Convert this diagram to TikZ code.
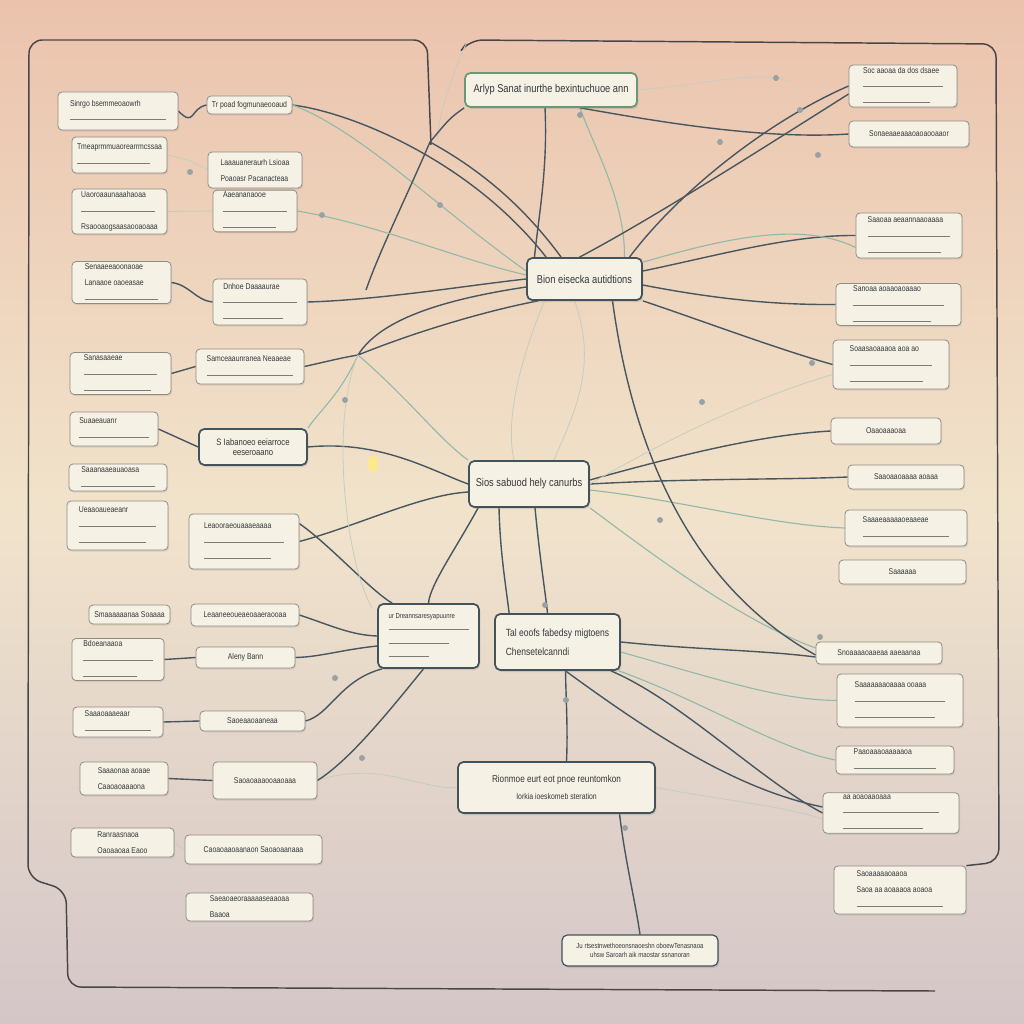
\documentclass[tikz,border=0pt]{standalone}
\usepackage{fontspec}
\setmainfont{Liberation Sans}[FakeStretch=0.82]
\usetikzlibrary{shadows,calc}
\definecolor{bgtop}{HTML}{EBC3AD}
\definecolor{bgmid}{HTML}{F1E3CB}
\definecolor{bgbot}{HTML}{D4C6C8}
\definecolor{framec}{HTML}{4A4648}
\definecolor{boxfill}{HTML}{F6F1E5}
\definecolor{sideborder}{HTML}{8F8C84}
\definecolor{mainborder}{HTML}{42535C}
\definecolor{greenborder}{HTML}{6A9874}
\definecolor{darkline}{HTML}{485660}
\definecolor{lightline}{HTML}{93BAA9}
\definecolor{faintline}{HTML}{C6CDC0}
\definecolor{txt}{HTML}{34373A}
\definecolor{rulec}{HTML}{7C7C76}
\definecolor{knotc}{HTML}{98A2A4}
\newcommand\hd[1]{{\fontsize{6.3}{7.3}\selectfont\color{txt}#1}}
\newcommand\rl[1]{\textcolor{rulec}{\rule[0.3ex]{#1}{0.55pt}}}
\newcommand\bx[7]{\node[#6, minimum width={(#4-#2)*0.75pt}, minimum height={(#5-#3)*0.75pt}] (#1) at ({(#2+#4)/2},{(#3+#5)/2}) {#7};}
\pgfdeclarelayer{back}
\pgfdeclarelayer{bg}
\pgfsetlayers{back,bg,main}
\tikzset{
  sbox/.style={draw=sideborder, fill=boxfill, rounded corners=3pt, line width=0.6pt, inner sep=1.5pt, align=left, text=txt,
    drop shadow={opacity=0.18, shadow xshift=0.8pt, shadow yshift=-1.2pt}},
  mbox/.style={draw=mainborder, fill=boxfill, rounded corners=4pt, line width=1.3pt, inner sep=2pt, align=center, text=txt,
    font=\fontsize{8.5}{10}\selectfont, drop shadow={opacity=0.25, shadow xshift=1pt, shadow yshift=-1.5pt}},
  gbox/.style={mbox, draw=greenborder},
  dk/.style={draw=darkline, line width=1.05pt},
  lt/.style={draw=lightline, line width=0.85pt},
  fa/.style={draw=faintline, line width=0.6pt},
  frame/.style={draw=framec, line width=1.1pt, rounded corners=10pt},
}
\begin{document}
\begin{tikzpicture}[x=0.75pt,y=-0.75pt]
\useasboundingbox (0,0) rectangle (1024,1024);
\begin{pgfonlayer}{back}
\shade[top color=bgtop, bottom color=bgbot, middle color=bgmid] (0,0) rectangle (1024,1024);
\end{pgfonlayer}

% ---------- main boxes ----------
\bx{top}{465}{73}{637}{107}{gbox}{Arlyp Sanat inurthe bexintuchuoe ann}
\bx{B}{527}{258}{642}{300}{mbox}{Bion eisecka autidtions}
\bx{C}{469}{461}{589}{507}{mbox}{Sios sabuod hely canurbs}
\bx{D}{378}{604}{479}{668}{mbox, align=left}{{\fontsize{5.5}{6.5}\selectfont ur Dreannsaresyapuunre}\\\rl{60pt}\\\rl{45pt}\\\rl{30pt}}
\bx{E}{495}{614}{620}{670}{mbox, align=left, font=\fontsize{7.8}{9}\selectfont}{Tal eoofs fabedsy migtoens\\[5pt]Chensetelcanndi}
\bx{F}{458}{762}{655}{813}{mbox, font=\fontsize{7.5}{9}\selectfont}{Rionmoe eurt eot pnoe reuntomkon\\[4pt]{\fontsize{6.3}{7}\selectfont Iorkia ioeskomeb steration}}
\bx{G}{562}{935}{718}{966}{mbox, line width=0.9pt, font=\fontsize{5.5}{6.5}\selectfont}{Ju rtsestnwethoeonsnaoeshn oboewTenasnaoa\\ uhsw Saroarh aik  maostar ssnanoran}
\bx{H}{199}{429}{307}{465}{mbox, font=\fontsize{7}{8}\selectfont}{S Iabanoeo eeiarroce\\ eeseroaano}

% ---------- left column ----------
\bx{L1}{58}{92}{178}{130}{sbox}{\hd{Sinrgo bsemmeoaowrh}\\\rl{72pt}}
\bx{L2}{207}{96}{292}{114}{sbox}{\hd{Tr poad fogmunaeooaud}}
\bx{L3}{72}{137}{167}{173}{sbox}{\hd{Tmeaprmmuaorearrmcssaa}\\\rl{55pt}}
\bx{L4}{208}{152}{302}{188}{sbox}{\hd{Laaauaneraurh Lsioaa}\\\hd{Poaoasr Pacanacteaa}}
\bx{L5}{72}{189}{167}{234}{sbox}{\hd{Uaoroaaunaaahaoaa}\\\rl{55pt}\\\hd{Rsaooaogsaasaooaoaaa}}
\bx{L6}{213}{193}{297}{229}{sbox}{\hd{Aaeananaooe}\\\rl{48pt}\\\rl{40pt}}
\bx{L7}{72}{263}{171}{302}{sbox}{\hd{Senaaeeaoonaoae}\\\hd{Lanaaoe oaoeasae}\\\rl{55pt}}
\bx{L8}{213}{279}{307}{325}{sbox}{\hd{Dnhoe Daaaaurae}\\\rl{55pt}\\\rl{45pt}}
\bx{L9}{70}{354}{171}{393}{sbox}{\hd{Sanasaaeae}\\\rl{55pt}\\\rl{50pt}}
\bx{L10}{196}{349}{304}{384}{sbox}{\hd{Samceaaunranea Neaaeae}\\\rl{65pt}}
\bx{L11}{70}{412}{158}{446}{sbox}{\hd{Suaaeauanr}\\\rl{52pt}}
\bx{L12}{69}{464}{167}{491}{sbox}{\hd{Saaanaaeauaoasa}\\\rl{55pt}}
\bx{L13}{67}{501}{168}{550}{sbox}{\hd{Ueaaoaueaeanr}\\\rl{58pt}\\\rl{50pt}}
\bx{L14}{189}{514}{299}{569}{sbox}{\hd{Leaooraeouaaaeaaaa}\\\rl{60pt}\\\rl{50pt}}
\bx{L15}{89}{605}{170}{624}{sbox}{\hd{Smaaaaaanaa Soaaaa}}
\bx{L16}{191}{604}{299}{626}{sbox}{\hd{Leaaneeoueaeoaaeraooaa}}
\bx{L17}{72}{640}{164}{679}{sbox}{\hd{Bdoeanaaoa}\\\rl{52pt}\\\rl{40pt}}
\bx{L18}{196}{647}{295}{668}{sbox}{\hd{Aleny Bann}}
\bx{L19}{73}{707}{163}{737}{sbox}{\hd{Saaaoaaaeaar}\\\rl{50pt}}
\bx{L20}{200}{711}{305}{731}{sbox}{\hd{Saoeaaoaaneaa}}
\bx{L21}{80}{762}{168}{795}{sbox}{\hd{Saaaonaa aoaae}\\\hd{Caaoaoaaaona}}
\bx{L22}{213}{762}{317}{799}{sbox}{\hd{Saoaoaaaooaaoaaa}}
\bx{L23}{71}{828}{174}{857}{sbox}{\hd{Ranraasnaoa}\\\hd{Oaoaaoaa Eaoo}}
\bx{L24}{185}{835}{322}{864}{sbox}{\hd{Caoaoaaoaanaon Saoaoaanaaa}}
\bx{L25}{186}{893}{313}{921}{sbox}{\hd{Saeaoaeoraaaaaseaaoaa}\\\hd{Baaoa}}

% ---------- right column ----------
\bx{R1}{849}{68}{957}{104}{sbox}{\hd{Soc aaoaa da dos dsaee}\\\rl{60pt}\\\rl{50pt}}
\bx{R2}{849}{121}{969}{147}{sbox}{\hd{Sonaeaaeaaaoaoaooaaor}}
\bx{R3}{856}{213}{962}{258}{sbox}{\hd{Saaoaa aeaannaaoaaaa}\\\rl{62pt}\\\rl{55pt}}
\bx{R4}{836}{284}{961}{325}{sbox}{\hd{Sanoaa aoaaoaoaaao}\\\rl{68pt}\\\rl{58pt}}
\bx{R5}{833}{340}{949}{389}{sbox}{\hd{Soaasaoaaaoa aoa ao}\\\rl{62pt}\\\rl{55pt}}
\bx{R6}{831}{418}{941}{444}{sbox}{\hd{Oaaoaaaoaa}}
\bx{R7}{848}{465}{964}{489}{sbox}{\hd{Saaoaaoaaaa aoaaa}}
\bx{R8}{845}{510}{967}{546}{sbox}{\hd{Saaaeaaaaaoeaaeae}\\\rl{65pt}}
\bx{R9}{839}{560}{966}{584}{sbox}{\hd{Saaaaaa}}
\bx{R10}{816}{642}{942}{664}{sbox}{\hd{Snoaaaaoaaeaa aaeaanaa}}
\bx{R11}{837}{674}{963}{727}{sbox}{\hd{Saaaaaaaoaaaa ooaaa}\\\rl{68pt}\\\rl{60pt}}
\bx{R12}{836}{746}{954}{774}{sbox}{\hd{Paaoaaaoaaaaaoa}\\\rl{62pt}}
\bx{R13}{823}{793}{959}{833}{sbox}{\hd{aa aoaoaaoaaa}\\\rl{72pt}\\\rl{60pt}}
\bx{R14}{834}{866}{966}{914}{sbox}{\hd{Saoaaaaaoaaoa}\\\hd{Saoa aa aoaaaoa aoaoa}\\\rl{65pt}}

\begin{pgfonlayer}{bg}
% frame
\draw[frame] (431,145) -- (427,40) -- (29,40) -- (28,878) -- (66,890) -- (68,987) -- (935,991);
\draw[frame] (466,44) -- (469,40) -- (996,44) -- (999,862) -- (R14.north east);
\draw[fa] (466,44) .. controls (450,80) and (440,110) .. (437,140);

\coordinate (hub1) at (430,142);
\coordinate (hub2) at (358,355);
\coordinate (j1) at (366,290);

% top area
\draw[dk] (L1.east) .. controls (195,128) and (190,108) .. (L2.west);
\draw[dk] (L2.east) .. controls (350,112) and (470,160) .. ($(B.north west)+(20,0)$);
\draw[lt] (L2.east) .. controls (360,130) and (440,210) .. ($(B.west)+(0,-8)$);
\draw[dk] (top.south west) .. controls (450,118) .. (hub1) .. controls (405,200) and (380,250) .. (j1);
\draw[dk] (hub1) .. controls (490,175) and (530,215) .. ($(B.north west)+(35,0)$);
\draw[dk] ($(top.south)+(-6,0)$) .. controls (548,170) and (538,220) .. ($(B.north)+(-50,0)$);
\draw[lt] ($(top.south)+(29,0)$) .. controls (595,150) and (625,200) .. ($(B.north)+(40,0)$);
\draw[dk] (R1.west) .. controls (770,120) and (680,190) .. ($(B.north)+(45,0)$);
\draw[dk] ($(R1.west)+(0,8)$) .. controls (760,150) and (650,220) .. ($(B.north)+(-5,0)$);
\draw[dk] ($(top.south)+(29,0)$) .. controls (650,120) and (760,140) .. (R2.west);
\draw[fa] (top.east) .. controls (700,85) and (760,70) .. ($(R1.west)+(-60,-5)$);

% B right
\draw[dk] ($(B.east)+(0,-8)$) .. controls (720,255) and (790,235) .. (R3.west);
\draw[dk] ($(B.east)+(0,6)$) .. controls (720,300) and (780,305) .. (R4.west);
\draw[dk] (B.south east) .. controls (700,320) and (780,350) .. (R5.west);
\draw[lt] ($(B.north east)+(0,5)$) .. controls (720,240) and (800,220) .. ($(R3.west)+(0,12)$);

% B left
\draw[dk] (L8.east) .. controls (380,300) and (470,285) .. (B.west);
\draw[dk] (hub2) .. controls (420,330) and (490,310) .. ($(B.south west)+(12,0)$);
\draw[dk] (L10.east) .. controls (325,362) and (340,358) .. (hub2);
\draw[dk] (hub2) .. controls (380,320) and (440,300) .. ($(B.west)+(0,8)$);
\draw[lt] (L6.east) .. controls (380,225) and (460,260) .. ($(B.west)+(0,-4)$);
\draw[dk] (L9.east) -- (L10.west);
\draw[dk] (L7.east) .. controls (190,285) and (195,300) .. (L8.west);
\draw[fa] (L5.east) -- (L6.west);
\draw[fa] (L3.east) .. controls (190,160) .. (L4.west);

% C
\draw[dk] (L11.east) -- (H.west);
\draw[dk] (H.east) .. controls (380,440) and (430,470) .. (C.west);
\draw[dk] (L14.east) .. controls (360,525) and (420,495) .. ($(C.west)+(0,8)$);
\draw[dk] ($(L14.north east)+(0,10)$) .. controls (330,545) and (370,590) .. ($(D.north west)+(15,0)$);
\draw[dk] ($(C.south west)+(10,0)$) .. controls (455,550) and (430,585) .. (D.north);
\draw[dk] ($(C.south)+(-30,0)$) .. controls (500,550) and (505,580) .. ($(E.north west)+(15,0)$);
\draw[dk] ($(C.south)+(6,0)$) .. controls (540,560) and (545,590) .. ($(E.north)+(-10,0)$);
\draw[dk] ($(C.east)+(0,-4)$) .. controls (680,455) and (760,435) .. (R6.west);
\draw[dk] (C.east) .. controls (700,478) and (780,480) .. (R7.west);
\draw[lt] ($(C.east)+(0,6)$) .. controls (680,500) and (770,525) .. (R8.west);
\draw[lt] (C.south east) .. controls (660,560) and (740,620) .. ($(R10.west)+(0,-5)$);
\draw[dk] ($(B.south)+(28,0)$) .. controls (630,430) and (680,580) .. ($(R10.west)+(0,2)$);
\draw[lt] (hub2) .. controls (410,400) and (440,440) .. (C.north west);
\draw[fa] ($(B.south)+(-40,0)$) .. controls (520,360) and (505,420) .. ($(C.north)+(-15,0)$);
\draw[fa] ($(B.south)+(-10,0)$) .. controls (600,370) and (570,420) .. ($(C.north)+(25,0)$);
\draw[lt] (hub2) .. controls (340,395) and (320,410) .. (H.north east);
\draw[fa] (C.east) .. controls (700,420) and (780,390) .. ($(R5.west)+(0,10)$);

% E F G
\draw[dk] (E.east) .. controls (700,650) and (760,650) .. ($(R10.west)+(0,4)$);
\draw[lt] ($(E.east)+(0,10)$) .. controls (720,680) and (780,700) .. (R11.west);
\draw[dk] ($(E.south east)+(-10,0)$) .. controls (680,700) and (760,780) .. (R13.west);
\draw[dk] ($(E.south)+(8,0)$) .. controls (660,740) and (740,790) .. ($(R13.west)+(0,-6)$);
\draw[lt] ($(E.south east)+(-2,0)$) .. controls (700,700) and (780,750) .. (R12.west);
\draw[dk] ($(E.south)+(8,0)$) .. controls (566,700) and (568,730) .. ($(F.north)+(10,0)$);
\draw[dk] ($(F.south)+(63,0)$) .. controls (625,860) and (635,900) .. ($(G.north)+(0,0)$);
\draw[fa] (F.east) .. controls (720,800) and (780,805) .. ($(R13.west)+(0,6)$);
\draw[fa] (L22.east) .. controls (380,760) and (420,790) .. (F.west);

% D
\draw[dk] (L16.east) .. controls (330,625) and (350,635) .. (D.west);
\draw[dk] (L17.east) -- (L18.west);
\draw[dk] ($(D.west)+(0,10)$) .. controls (340,650) and (320,657) .. (L18.east);
\draw[dk] (L19.east) -- (L20.west);
\draw[dk] (L20.east) .. controls (330,715) and (340,680) .. ($(D.south west)+(5,0)$);
\draw[dk] ($(D.south)+(-5,0)$) .. controls (390,710) and (350,760) .. (L22.east);
\draw[dk] (L21.east) -- (L22.west);
\draw[fa] (L23.east) -- (L24.west);
\draw[fa] (hub2) .. controls (330,420) and (345,560) .. ($(D.north west)+(-5,5)$);

% knots
\foreach \p in {(580,115),(720,142),(818,155),(812,363),(660,520),(566,700),(625,828),(545,605),(440,205),(322,215),(345,400),(190,172),(702,402),(820,637),(776,78),(800,110),(335,678),(362,758)}
  \fill[knotc] \p circle (3);
\fill[yellow!70!orange!45] (373,464) ellipse (5 and 8);
\end{pgfonlayer}
\end{tikzpicture}
\end{document}
